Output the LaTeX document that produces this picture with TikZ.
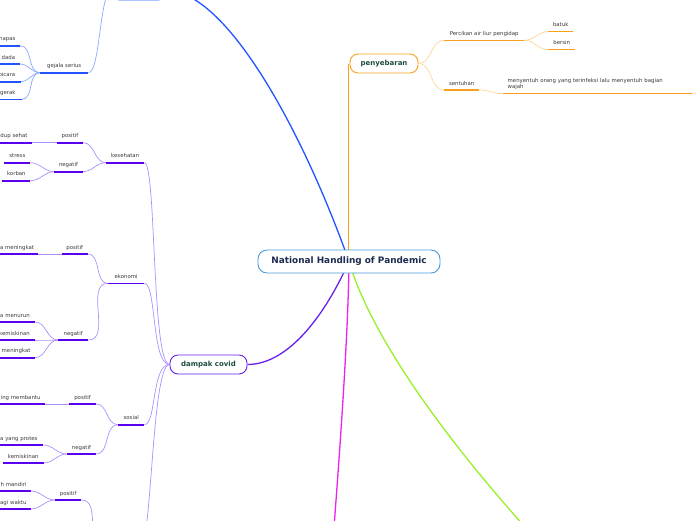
\documentclass[tikz,border=0pt]{standalone}
\usepackage{fontspec}
\setmainfont{DejaVu Sans}
\usetikzlibrary{backgrounds}
\definecolor{txt}{HTML}{3A3A3A}
\definecolor{ctxt}{HTML}{1B2A4E}
\definecolor{gtxt}{HTML}{1E4D40}
\definecolor{cbord}{HTML}{4A9AD8}
\definecolor{bdark}{HTML}{2255FF}
\definecolor{blight}{HTML}{8AA8FF}
\definecolor{pdark}{HTML}{5A00F0}
\definecolor{pbord}{HTML}{6A1FEA}
\definecolor{plight}{HTML}{AB90FF}
\definecolor{odark}{HTML}{F7A01E}
\definecolor{olight}{HTML}{FCD597}
\definecolor{mag}{HTML}{EE22EE}
\definecolor{grn}{HTML}{9BEF2A}
\tikzset{
  lblbase/.style={font=\fontsize{5.4}{6}\selectfont, text=txt, inner ysep=3.4pt, text height=4pt, text depth=1.4pt},
  tnode/.style={lblbase, anchor=south west, inner xsep=0pt, minimum width=#1},
  cleaf/.style={lblbase, anchor=south east, text width=60pt, align=right, inner xsep=#1},
  longleaf/.style={font=\fontsize{5.4}{6}\selectfont, text=txt, anchor=south west, inner ysep=3.4pt, inner xsep=4.5pt, text width=180pt, align=left},
  mainbox/.style={draw, rounded corners=8pt, fill=white, line width=0.9pt, font=\fontsize{7}{8}\selectfont\bfseries, text=gtxt, minimum height=19pt, inner xsep=0pt},
  centerbox/.style={draw=cbord, rounded corners=9pt, fill=white, line width=0.9pt, font=\fontsize{8.9}{10}\selectfont\bfseries, text=ctxt, minimum height=23pt, minimum width=182pt},
  bline/.style={draw=bdark, line width=1.6pt},
  pline/.style={draw=pdark, line width=1.6pt},
  oline/.style={draw=odark, line width=1.5pt},
  bconn/.style={draw=blight, line width=0.7pt},
  pconn/.style={draw=plight, line width=0.7pt},
  oconn/.style={draw=olight, line width=0.7pt},
}
\begin{document}
\begin{tikzpicture}[x=1pt,y=-1pt]
\useasboundingbox (0,0) rectangle (696,520);
% main nodes
\node[centerbox] (c) at (349,261.5) {National Handling of Pandemic};
\node[mainbox, draw=odark, minimum width=68pt] (peny) at (384,63.5) {penyebaran};
\node[mainbox, draw=pbord, minimum width=77pt] (damp) at (208.5,364.5) {dampak covid};
\node[mainbox, draw=bdark, minimum width=54pt] (topb) at (139,-9.5) {};
\coordinate (mend) at (330,580);
\coordinate (gend) at (560,565);
\coordinate (d4) at (140,548);
\coordinate (p4) at (104,548);
\coordinate (oend) at (706,90);
% blue subtree
\node[tnode=48pt] (gej) at (40,72.7) {gejala serius};
\node[cleaf=4.3pt] (nap) at (20,45.7) {napas};
\node[cleaf=4.7pt] (dada) at (20,64) {dada};
\node[cleaf=5.2pt] (bic) at (20.7,81.7) {bicara};
\node[cleaf=6pt] (ger) at (21.7,99.3) {gerak};
% purple subtree
\node[tnode=38pt] (kes) at (106,162.7) {kesehatan};
\node[tnode=26pt] (kpos) at (56.7,142.7) {positif};
\node[cleaf=4.6pt] (kposa) at (32.3,142.7) {dup sehat};
\node[tnode=28pt] (kneg) at (54.3,171.7) {negatif};
\node[tnode=25.7pt] (kstr) at (4.3,162.7) {stress};
\node[tnode=27.7pt] (kkor) at (2.3,180.7) {korban};
\node[tnode=36pt] (eko) at (108,283.3) {ekonomi};
\node[tnode=25.6pt] (epos) at (61.7,254) {positif};
\node[cleaf=3.5pt] (eposa) at (37.7,254) {a meningkat};
\node[tnode=30pt] (eneg) at (58,340) {negatif};
\node[cleaf=5pt] (enega) at (35,322) {a menurun};
\node[cleaf=5pt] (enegb) at (35,340) {kemiskinan};
\node[cleaf=4.3pt] (enegc) at (35,357.7) {meningkat};
\node[tnode=26pt] (sos) at (118,424.7) {sosial};
\node[tnode=26.7pt] (spos) at (69,404) {positif};
\node[cleaf=4.3pt] (sposa) at (45,404) {ing membantu};
\node[tnode=29pt] (sneg) at (66.7,454) {negatif};
\node[cleaf=5.6pt] (snega) at (43.3,445) {a yang protes};
\node[tnode=40.6pt] (snegb) at (2.7,463) {kemiskinan};
\node[tnode=26pt] (bpos) at (55,500) {positif};
\node[cleaf=4pt] (bposa) at (30.7,491) {h mandiri};
\node[cleaf=4pt] (bposb) at (30.7,509) {agi waktu};
% orange subtree
\node[tnode=80pt] (perc) at (444,40.3) {Percikan air liur pengidap};
\node[tnode=35pt] (sent) at (444,90) {sentuhan};
\node[tnode=25pt] (bat) at (548,31.7) {batuk};
\node[tnode=27pt] (ber) at (548,49.7) {bersin};
\node[longleaf] (meny) at (503,93.7) {menyentuh orang yang terinfeksi lalu menyentuh bagian\\wajah};
% underlines
\foreach \n in {gej,nap,dada,bic,ger} \draw[bline] (\n.south west) -- (\n.south east);
\foreach \n in {kes,kpos,kposa,kneg,kstr,kkor,eko,epos,eposa,eneg,enega,enegb,enegc,sos,spos,sposa,sneg,snega,snegb,bpos,bposa,bposb} \draw[pline] (\n.south west) -- (\n.south east);
\foreach \n in {perc,sent,bat,ber,meny} \draw[oline] (\n.south west) -- (\n.south east);
\begin{pgfonlayer}{background}
% main branches
\draw[draw=bdark, line width=1.3pt] (c.center) .. controls +(-46,-130) and +(60,0) .. (topb.east);
\draw[draw=odark, line width=1.2pt] ([xshift=-1pt]peny.west |- c.center) -- ([xshift=-1pt]peny.west);
\draw[draw=pbord, line width=1.3pt] (c.center) .. controls +(-27,60) and +(38,0) .. (damp.east);
\draw[draw=mag, line width=1.3pt] (c.center) .. controls +(-1,90) and +(6,-80) .. (mend);
\draw[draw=grn, line width=1.3pt] (c.center) .. controls +(26,88) and +(-90,-95) .. (gend);
% blue connectors
\draw[bconn] (gej.south east) .. controls +(12,0) and +(-12,0) .. (topb.west);
\foreach \n in {nap,dada,bic,ger} \draw[bconn] (gej.south west) to[out=180,in=0] (\n.south east);
% purple connectors
\foreach \n in {kes,eko,sos} \draw[pconn] (damp.west) .. controls +(-18,0) and +(12,0) .. (\n.south east);
\draw[pconn] (damp.west) .. controls +(-18,0) and +(12,0) .. (d4);
\foreach \n in {kpos,kneg} \draw[pconn] (kes.south west) to[out=180,in=0] (\n.south east);
\draw[pconn] (kpos.south west) -- (kposa.south east);
\foreach \n in {kstr,kkor} \draw[pconn] (kneg.south west) to[out=180,in=0] (\n.south east);
\foreach \n in {epos,eneg} \draw[pconn] (eko.south west) to[out=180,in=0] (\n.south east);
\draw[pconn] (epos.south west) -- (eposa.south east);
\foreach \n in {enega,enegb,enegc} \draw[pconn] (eneg.south west) to[out=180,in=0] (\n.south east);
\foreach \n in {spos,sneg} \draw[pconn] (sos.south west) to[out=180,in=0] (\n.south east);
\draw[pconn] (spos.south west) -- (sposa.south east);
\foreach \n in {snega,snegb} \draw[pconn] (sneg.south west) to[out=180,in=0] (\n.south east);
\draw[pconn] (p4) to[out=180,in=0] (bpos.south east);
\foreach \n in {bposa,bposb} \draw[pconn] (bpos.south west) to[out=180,in=0] (\n.south east);
% orange connectors
\foreach \n in {perc,sent} \draw[oconn] (peny.east) to[out=0,in=180] (\n.south west);
\foreach \n in {bat,ber} \draw[oconn] (perc.south east) to[out=0,in=180] (\n.south west);
\draw[oconn] (sent.south east) to[out=0,in=180] (meny.south west);
\draw[oconn] (meny.south east) to[out=0,in=180] (oend);
\end{pgfonlayer}
\end{tikzpicture}
\end{document}
